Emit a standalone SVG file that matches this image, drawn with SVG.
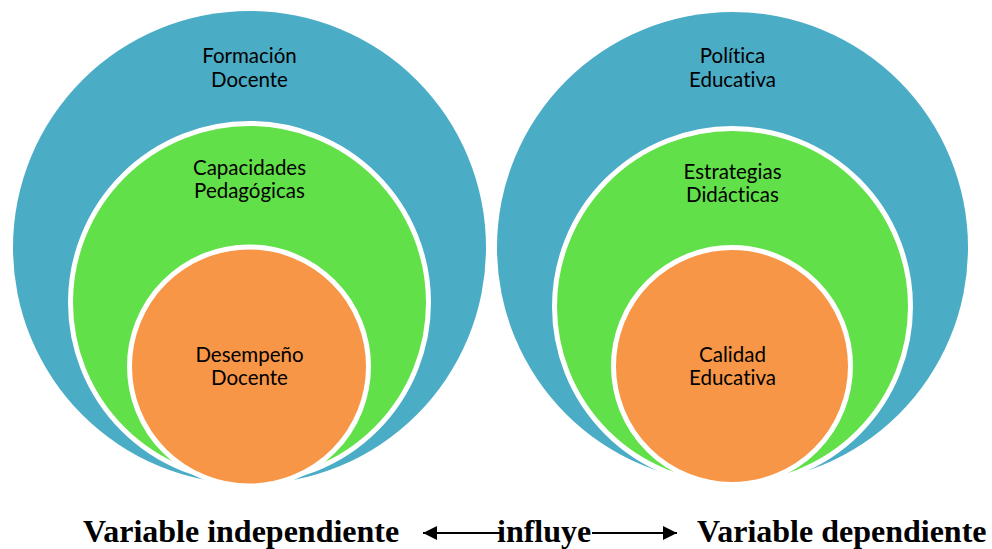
<svg xmlns="http://www.w3.org/2000/svg" width="992" height="549" viewBox="0 0 992 549">
<defs>
<style>
.outer{fill:#4BACC6}
.mid{fill:#62E049;stroke:#fff;stroke-width:5}
.inner{fill:#F79646;stroke:#fff;stroke-width:5}
.lbl{font-family:Lato,"Liberation Sans",sans-serif;font-size:20.5px;fill:#000;text-anchor:middle;font-variant-ligatures:none}
.bot{font-family:"Liberation Serif","Times New Roman",serif;font-weight:bold;font-size:32px;fill:#000}
.arr{stroke:#000;stroke-width:2;fill:none}
</style>
<marker id="ah" viewBox="0 0 10 10" refX="10" refY="5" markerWidth="15" markerHeight="14" markerUnits="userSpaceOnUse" orient="auto-start-reverse">
<path d="M0,0 L10,5 L0,10 z" fill="#000"/>
</marker>
</defs>
<rect width="992" height="549" fill="#fff"/>
<g id="formacion-docente">
<circle class="outer" cx="249.5" cy="247.5" r="236.5"/>
<text class="lbl" x="249.5" y="63">Formación</text>
<text class="lbl" x="249.5" y="87">Docente</text>
</g>
<g id="capacidades-pedagogicas">
<circle class="mid" cx="249.5" cy="302.5" r="179"/>
<text class="lbl" x="249.5" y="175">Capacidades</text>
<text class="lbl" x="249.5" y="198">Pedagógicas</text>
</g>
<g id="desempeno-docente">
<circle class="inner" cx="249" cy="366.5" r="119.5"/>
<text class="lbl" x="249.5" y="362">Desempeño</text>
<text class="lbl" x="249.5" y="385">Docente</text>
</g>
<g id="politica-educativa">
<circle class="outer" cx="732.5" cy="247.5" r="235.5"/>
<text class="lbl" x="732.5" y="63">Política</text>
<text class="lbl" x="732.5" y="87">Educativa</text>
</g>
<g id="estrategias-didacticas">
<circle class="mid" cx="732.5" cy="306.5" r="178"/>
<text class="lbl" x="732.5" y="179">Estrategias</text>
<text class="lbl" x="732.5" y="202">Didácticas</text>
</g>
<g id="calidad-educativa">
<circle class="inner" cx="732" cy="366" r="118.5"/>
<text class="lbl" x="732.5" y="362">Calidad</text>
<text class="lbl" x="732.5" y="385">Educativa</text>
</g>
<g id="variable-independiente">
<text class="bot" x="83" y="542">Variable independiente</text>
</g>
<g id="variable-dependiente">
<text class="bot" x="697" y="542">Variable dependiente</text>
</g>
<g id="connectors">
<line class="arr" x1="503" y1="533" x2="423" y2="533" marker-end="url(#ah)"/>
<line class="arr" x1="592" y1="533" x2="677" y2="533" marker-end="url(#ah)"/>
<text class="bot" x="497" y="542">influye</text>
</g>
</svg>
